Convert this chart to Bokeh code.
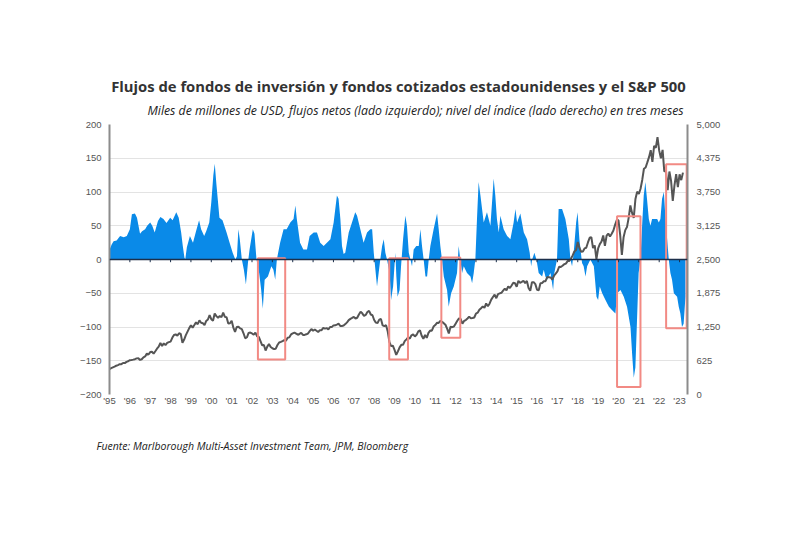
from bokeh.plotting import figure
from bokeh.models import Range1d, LinearAxis, Title, FixedTicker, NumeralTickFormatter, Span
from bokeh.embed import file_html
from bokeh.resources import INLINE

# ---------------- data ----------------
years = list(range(1995, 2024))
year_labels = ["'" + str(y)[2:] for y in years]

left_ticks = list(range(-200, 201, 50))
right_ticks = [0, 625, 1250, 1875, 2500, 3125, 3750, 4375, 5000]

# S&P 500 monthly level, Jan 1995 - Mar 2023 (right axis)
spx = [
    470, 487, 501, 515, 533, 545, 562, 562, 584, 582, 605, 616,
    636, 640, 646, 654, 669, 671, 640, 652, 687, 705, 757, 741,
    786, 791, 757, 801, 848, 885, 954, 900, 947, 915, 955, 970,
    980, 1049, 1102, 1112, 1091, 1134, 1121, 957, 1017, 1099, 1164, 1229,
    1280, 1238, 1286, 1335, 1302, 1373, 1329, 1320, 1283, 1363, 1389, 1469,
    1395, 1366, 1499, 1452, 1421, 1455, 1431, 1518, 1437, 1429, 1315, 1320,
    1366, 1240, 1160, 1250, 1256, 1224, 1211, 1134, 1041, 1060, 1140, 1148,
    1130, 1107, 1147, 1077, 1067, 990, 912, 916, 815, 886, 936, 880,
    856, 841, 848, 917, 964, 975, 990, 1008, 996, 1051, 1058, 1112,
    1131, 1145, 1126, 1107, 1121, 1141, 1102, 1104, 1115, 1130, 1174, 1212,
    1181, 1204, 1181, 1157, 1192, 1191, 1234, 1220, 1229, 1207, 1250, 1248,
    1280, 1281, 1295, 1311, 1270, 1270, 1277, 1304, 1336, 1378, 1401, 1418,
    1438, 1407, 1421, 1482, 1531, 1503, 1455, 1474, 1527, 1549, 1481, 1468,
    1379, 1331, 1323, 1386, 1400, 1280, 1267, 1283, 1166, 969, 896, 903,
    826, 735, 798, 873, 919, 919, 988, 1021, 1057, 1036, 1096, 1115,
    1074, 1105, 1169, 1187, 1089, 1031, 1102, 1049, 1141, 1183, 1181, 1258,
    1286, 1327, 1326, 1364, 1345, 1321, 1292, 1219, 1131, 1253, 1247, 1258,
    1312, 1366, 1409, 1398, 1310, 1362, 1379, 1407, 1441, 1412, 1416, 1426,
    1498, 1515, 1569, 1598, 1631, 1606, 1686, 1633, 1682, 1757, 1806, 1848,
    1783, 1860, 1872, 1884, 1924, 1960, 1931, 2003, 1972, 2018, 2068, 2059,
    1995, 2105, 2068, 2086, 2107, 2063, 2104, 1972, 1920, 2079, 2080, 2044,
    1940, 1932, 2060, 2065, 2097, 2099, 2174, 2171, 2168, 2126, 2199, 2239,
    2279, 2364, 2363, 2384, 2412, 2423, 2470, 2472, 2519, 2575, 2648, 2674,
    2824, 2714, 2641, 2648, 2705, 2718, 2816, 2902, 2914, 2712, 2760, 2507,
    2704, 2785, 2834, 2946, 2752, 2942, 2980, 2927, 2977, 3038, 3141, 3231,
    3226, 2954, 2585, 2912, 3044, 3100, 3271, 3500, 3363, 3270, 3622, 3756,
    3714, 3811, 3973, 4181, 4204, 4298, 4395, 4523, 4308, 4605, 4567, 4766,
    4516, 4374, 4530, 4132, 4132, 3785, 4130, 3955, 3586, 3872, 4080, 3840,
    4077, 3970, 4109,
]
spx_x = [1995 + i / 12 for i in range(len(spx))]

# Net flows, USD bn (left axis)
flow_x = [
    1995.00, 1995.10, 1995.20, 1995.35, 1995.52, 1995.70, 1995.85, 1996.00, 1996.10, 1996.25,
    1996.35, 1996.50, 1996.60, 1996.75, 1996.85, 1997.00, 1997.10, 1997.22, 1997.38, 1997.50,
    1997.65, 1997.80, 1997.98, 1998.10, 1998.28, 1998.40, 1998.52, 1998.60, 1998.68, 1998.72,
    1998.80, 1998.95, 1999.10, 1999.25, 1999.40, 1999.50, 1999.65, 1999.75, 1999.90, 2000.00,
    2000.10, 2000.17, 2000.25, 2000.40, 2000.55, 2000.75, 2000.90, 2001.05, 2001.18, 2001.26,
    2001.33, 2001.40, 2001.50, 2001.60, 2001.70, 2001.80, 2001.88, 2002.04, 2002.12, 2002.22,
    2002.35, 2002.45, 2002.53, 2002.62, 2002.78, 2002.95, 2003.05, 2003.14, 2003.22, 2003.38,
    2003.55, 2003.70, 2003.88, 2004.04, 2004.13, 2004.20, 2004.36, 2004.52, 2004.70, 2004.83,
    2005.03, 2005.19, 2005.35, 2005.52, 2005.68, 2005.85, 2006.01, 2006.17, 2006.25, 2006.34,
    2006.42, 2006.50, 2006.58, 2006.75, 2006.91, 2007.07, 2007.16, 2007.32, 2007.48, 2007.65,
    2007.81, 2007.90, 2007.98, 2008.06, 2008.14, 2008.22, 2008.30, 2008.39, 2008.47, 2008.55,
    2008.63, 2008.76, 2008.83, 2008.93, 2009.04, 2009.09, 2009.15, 2009.25, 2009.32, 2009.42,
    2009.53, 2009.61, 2009.70, 2009.78, 2009.86, 2009.94, 2010.07, 2010.19, 2010.27, 2010.35,
    2010.43, 2010.52, 2010.60, 2010.68, 2010.76, 2010.92, 2011.09, 2011.17, 2011.25, 2011.33,
    2011.42, 2011.58, 2011.66, 2011.78, 2011.91, 2012.07, 2012.15, 2012.23, 2012.32, 2012.40,
    2012.56, 2012.73, 2012.81, 2012.89, 2012.97, 2013.05, 2013.13, 2013.22, 2013.38, 2013.54,
    2013.71, 2013.87, 2013.95, 2014.03, 2014.12, 2014.20, 2014.28, 2014.36, 2014.53, 2014.69,
    2014.85, 2014.94, 2015.02, 2015.18, 2015.26, 2015.35, 2015.51, 2015.64, 2015.71, 2015.76,
    2015.87, 2015.97, 2016.08, 2016.25, 2016.33, 2016.41, 2016.49, 2016.66, 2016.79, 2016.85,
    2016.98, 2017.06, 2017.23, 2017.39, 2017.56, 2017.64, 2017.72, 2017.80, 2017.92, 2017.99,
    2018.08, 2018.21, 2018.29, 2018.38, 2018.46, 2018.62, 2018.79, 2018.92, 2019.00, 2019.08,
    2019.20, 2019.36, 2019.53, 2019.69, 2019.85, 2019.93, 2020.10, 2020.26, 2020.42, 2020.59,
    2020.67, 2020.75, 2020.83, 2020.91, 2020.99, 2021.08, 2021.16, 2021.24, 2021.32, 2021.40,
    2021.49, 2021.57, 2021.65, 2021.73, 2021.90, 2021.98, 2022.06, 2022.14, 2022.23, 2022.31,
    2022.39, 2022.47, 2022.55, 2022.63, 2022.72, 2022.88, 2022.96, 2023.04, 2023.12, 2023.20,
    2023.29,
]
flow_v = [
    14, 22, 27, 28, 35, 33, 35, 45, 67, 68,
    62, 38, 42, 45, 50, 55, 50, 40, 57, 63,
    60, 54, 62, 58, 70, 62, 40, 20, 3, 0,
    18, 35, 25, 42, 58, 45, 35, 42, 55, 85,
    125, 142, 112, 62, 58, 40, 25, 10, 0, 5,
    45, 30, 0, -15, -37, -5, 15, 45, 38, 0,
    -20, -45, -73, -30, -25, -10, -15, -30, 0, 25,
    45, 45, 55, 60, 80, 60, 25, 15, 15, 35,
    40, 40, 25, 20, 25, 30, 55, 95, 90, 60,
    20, 8, 10, 40, 55, 70, 65, 45, 25, 40,
    45, 45, 10, -15, -40, -20, 0, 20, 30, 10,
    0, -20, -60, -40, 10, -25, -55, -45, -10, 30,
    65, 50, 10, 0, -10, 15, 20, 20, 45, 20,
    0, -25, -25, 0, 20, 45, 68, 45, 20, 0,
    -25, -45, -70, -50, -40, -20, 20, 0, -20, -10,
    -20, -25, -35, -20, 0, 60, 115, 95, 55, 70,
    50, 120, 95, 60, 40, 65, 55, 45, 35, 30,
    55, 75, 55, 68, 55, 40, 30, 10, -10, 0,
    10, 0, -20, -25, -15, -25, -30, -20, -45, -20,
    0, 75, 75, 60, 30, 0, -10, 10, 55, 70,
    30, -5, -10, -25, -10, 0, -10, -55, -60, -40,
    -50, -60, -70, -75, -80, -50, -45, -55, -70, -100,
    -140, -175, -160, -90, -20, 0, 50, 95, 115, 90,
    60, 50, 60, 60, 60, 55, 60, 90, 100, 60,
    30, 0, -20, -30, -50, -55, -70, -80, -100, -95,
    -55,
]

# Highlight boxes (left-axis units)
box_left = [2002.29, 2008.74, 2011.30, 2019.93, 2022.34]
box_right = [2003.63, 2009.66, 2012.23, 2021.08, 2023.35]
box_top = [2, 2, 3, 64, 141]
box_bottom = [-148, -148, -116, -189, -102]

title_text = "Flujos de fondos de inversión y fondos cotizados estadounidenses y el S&P 500"
subtitle_text = ("Miles de millones de USD, flujos netos (lado izquierdo); "
                 "nivel del índice (lado derecho) en tres meses")
source_text = "Fuente: Marlborough Multi-Asset Investment Team, JPM, Bloomberg"

# ---------------- figure ----------------
AXIS_GREY = "#8c8c8c"
TICK_COLOR = "#555555"
FONT = "Liberation Sans"

p = figure(width=800, height=533, output_backend="svg", toolbar_location=None,
           x_range=Range1d(1995, 2023.39), y_range=Range1d(-200, 200),
           min_border_left=109, min_border_right=113, min_border_top=124,
           min_border_bottom=139)
p.outline_line_color = None
p.background_fill_color = "white"
p.border_fill_color = "white"
p.extra_y_ranges = {"spx": Range1d(0, 5000)}

# x axis
p.xaxis.ticker = FixedTicker(ticks=years)
p.xaxis.major_label_overrides = {y: lab for y, lab in zip(years, year_labels)}
p.xaxis.axis_line_color = None
p.xaxis.major_tick_line_color = None
p.xaxis.minor_tick_line_color = None
p.xaxis.major_tick_out = 0
p.xaxis.major_tick_in = 0
p.xaxis.major_label_standoff = 0
p.xaxis.major_label_text_font = FONT
p.xaxis.major_label_text_font_size = "9.5px"
p.xaxis.major_label_text_color = TICK_COLOR

# left axis
p.yaxis.ticker = FixedTicker(ticks=left_ticks)
p.yaxis.axis_line_color = AXIS_GREY
p.yaxis.axis_line_width = 2
p.yaxis.major_tick_line_color = None
p.yaxis.minor_tick_line_color = None
p.yaxis.major_tick_out = 0
p.yaxis.major_tick_in = 0
p.yaxis.major_label_standoff = 8
p.yaxis.major_label_text_font = FONT
p.yaxis.major_label_text_font_size = "9.5px"
p.yaxis.major_label_text_color = TICK_COLOR

# right axis
ra = LinearAxis(y_range_name="spx", ticker=FixedTicker(ticks=right_ticks),
                formatter=NumeralTickFormatter(format="0,0"))
ra.axis_line_color = AXIS_GREY
ra.axis_line_width = 2
ra.major_tick_line_color = None
ra.minor_tick_line_color = None
ra.major_tick_out = 0
ra.major_tick_in = 0
ra.major_label_standoff = 9
ra.major_label_text_font = FONT
ra.major_label_text_font_size = "9.5px"
ra.major_label_text_color = TICK_COLOR
p.add_layout(ra, "right")

p.xgrid.grid_line_color = None
p.ygrid.ticker = FixedTicker(ticks=left_ticks)
p.ygrid.grid_line_color = "#e3e3e3"
p.ygrid.grid_line_width = 1

# flows area
p.varea(x=flow_x, y1=0, y2=flow_v, fill_color="#0a8ae8")

# zero line with small year ticks
p.add_layout(Span(location=0, dimension="width", line_color="#1c2f4a", line_width=1.5))
p.segment(x0=years, y0=[0] * len(years), x1=years, y1=[-4] * len(years),
          line_color="#1c2f4a", line_width=1)

# S&P 500 line
p.line(spx_x, spx, y_range_name="spx", line_color="#555555", line_width=2)

# highlight boxes
p.quad(left=box_left, right=box_right, top=box_top, bottom=box_bottom,
       fill_alpha=0, line_color="#f28a84", line_width=2)

# titles
p.add_layout(Title(text=subtitle_text, align="left", offset=38, text_font="Open Sans",
                   text_font_style="italic", text_font_size="12.3px", text_color="#222222",
                   standoff=12), "above")
p.add_layout(Title(text=title_text, align="center", text_font="Open Sans",
                   text_font_style="bold", text_font_size="14.8px", text_color="#333333",
                   standoff=-4), "above")
# blank spacer between the year labels and the source line
p.add_layout(Title(text=" ", text_font_size="14px", standoff=0), "below")
p.add_layout(Title(text=source_text, align="left", offset=-13, text_font="Open Sans",
                   text_font_style="italic", text_font_size="10.5px", text_color="#222222",
                   standoff=20), "below")

open("out.html", "w").write(file_html(p, INLINE))
